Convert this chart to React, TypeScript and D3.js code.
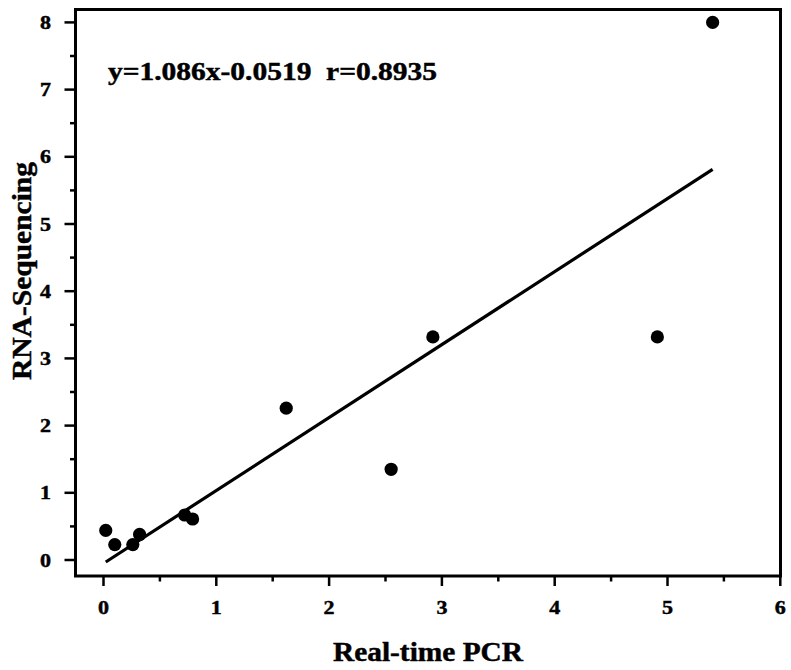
import React from "react";
import * as d3 from "d3";

const pcrValues = [0.02, 0.1, 0.26, 0.32, 0.72, 0.79, 1.62, 2.55, 2.92, 4.91, 5.4];
const seqValues = [0.44, 0.23, 0.23, 0.38, 0.67, 0.61, 2.26, 1.35, 3.32, 3.32, 8.0];
const xTicks = [0, 1, 2, 3, 4, 5, 6];
const yTicks = [0, 1, 2, 3, 4, 5, 6, 7, 8];
const slope = 1.086;
const intercept = -0.0519;
const equationLabel = "y=1.086x-0.0519  r=0.8935";
const xTitle = "Real-time PCR";
const yTitle = "RNA-Sequencing";

const W = 791;
const H = 670;
const frame = { left: 75.5, right: 780.5, top: 9.5, bottom: 576 };
const FONT = "'Liberation Serif', 'Times New Roman', Times, serif";

const textStyle = {
  fontFamily: FONT,
  fontWeight: 700 as const,
  stroke: "#000",
  strokeWidth: 0.45,
  whiteSpace: "pre" as const,
};

export default function App() {
  const x = d3.scaleLinear().domain([0, 6]).range([103.5, 780.3]);
  const y = d3.scaleLinear().domain([0, 8]).range([560, 22.4]);

  const xMinor = d3.range(0, 6.01, 0.5).filter((v) => Math.abs(v - Math.round(v)) > 0.01);
  const yMinor = d3.range(0, 8.01, 0.5).filter((v) => Math.abs(v - Math.round(v)) > 0.01);

  const x0 = d3.min(pcrValues)!;
  const x1 = d3.max(pcrValues)!;
  const line = d3
    .line<number>()
    .x((d) => x(d))
    .y((d) => y(slope * d + intercept));

  return (
    <svg
      width={W}
      height={H}
      style={{ position: "absolute", left: 0, top: 0, background: "#fff" }}
    >
      <rect x={0} y={0} width={W} height={H} fill="#fff" />
      {/* x ticks */}
      {xTicks.map((t) => (
        <g key={"xt" + t}>
          <line x1={x(t)} x2={x(t)} y1={frame.bottom} y2={frame.bottom + 10} stroke="#000" strokeWidth={2.5} />
          <text
            x={x(t)}
            y={613.5}
            textAnchor="middle"
            fontSize={19}
            textLength={11}
            lengthAdjust="spacingAndGlyphs"
            style={textStyle}
          >
            {t}
          </text>
        </g>
      ))}
      {xMinor.map((t) => (
        <line key={"xm" + t} x1={x(t)} x2={x(t)} y1={frame.bottom} y2={frame.bottom + 5.5} stroke="#000" strokeWidth={2.5} />
      ))}
      {/* y ticks */}
      {yTicks.map((t) => (
        <g key={"yt" + t}>
          <line x1={frame.left - 11} x2={frame.left} y1={y(t)} y2={y(t)} stroke="#000" strokeWidth={2.5} />
          <text
            x={51}
            y={y(t) + 6.5}
            textAnchor="end"
            fontSize={19}
            textLength={11}
            lengthAdjust="spacingAndGlyphs"
            style={textStyle}
          >
            {t}
          </text>
        </g>
      ))}
      {yMinor.map((t) => (
        <line key={"ym" + t} x1={frame.left - 5.5} x2={frame.left} y1={y(t)} y2={y(t)} stroke="#000" strokeWidth={2.5} />
      ))}
      {/* frame */}
      <rect
        x={frame.left}
        y={frame.top}
        width={frame.right - frame.left}
        height={frame.bottom - frame.top}
        fill="none"
        stroke="#000"
        strokeWidth={3}
      />
      {/* regression line */}
      <path d={line([x0, x1]) || ""} fill="none" stroke="#000" strokeWidth={3.2} />
      {/* points */}
      {pcrValues.map((v, i) => (
        <circle key={"p" + i} cx={x(v)} cy={y(seqValues[i])} r={6.6} fill="#000" />
      ))}
      {/* equation */}
      <text
        x={108}
        y={79.5}
        fontSize={25}
        textLength={329}
        lengthAdjust="spacingAndGlyphs"
        style={textStyle}
      >
        {equationLabel}
      </text>
      {/* axis titles */}
      <text
        x={(frame.left + frame.right) / 2}
        y={661}
        textAnchor="middle"
        fontSize={27}
        textLength={190}
        lengthAdjust="spacingAndGlyphs"
        style={textStyle}
      >
        {xTitle}
      </text>
      <text
        transform={`translate(31, 271) rotate(-90)`}
        textAnchor="middle"
        fontSize={27}
        textLength={218}
        lengthAdjust="spacingAndGlyphs"
        style={textStyle}
      >
        {yTitle}
      </text>
    </svg>
  );
}
